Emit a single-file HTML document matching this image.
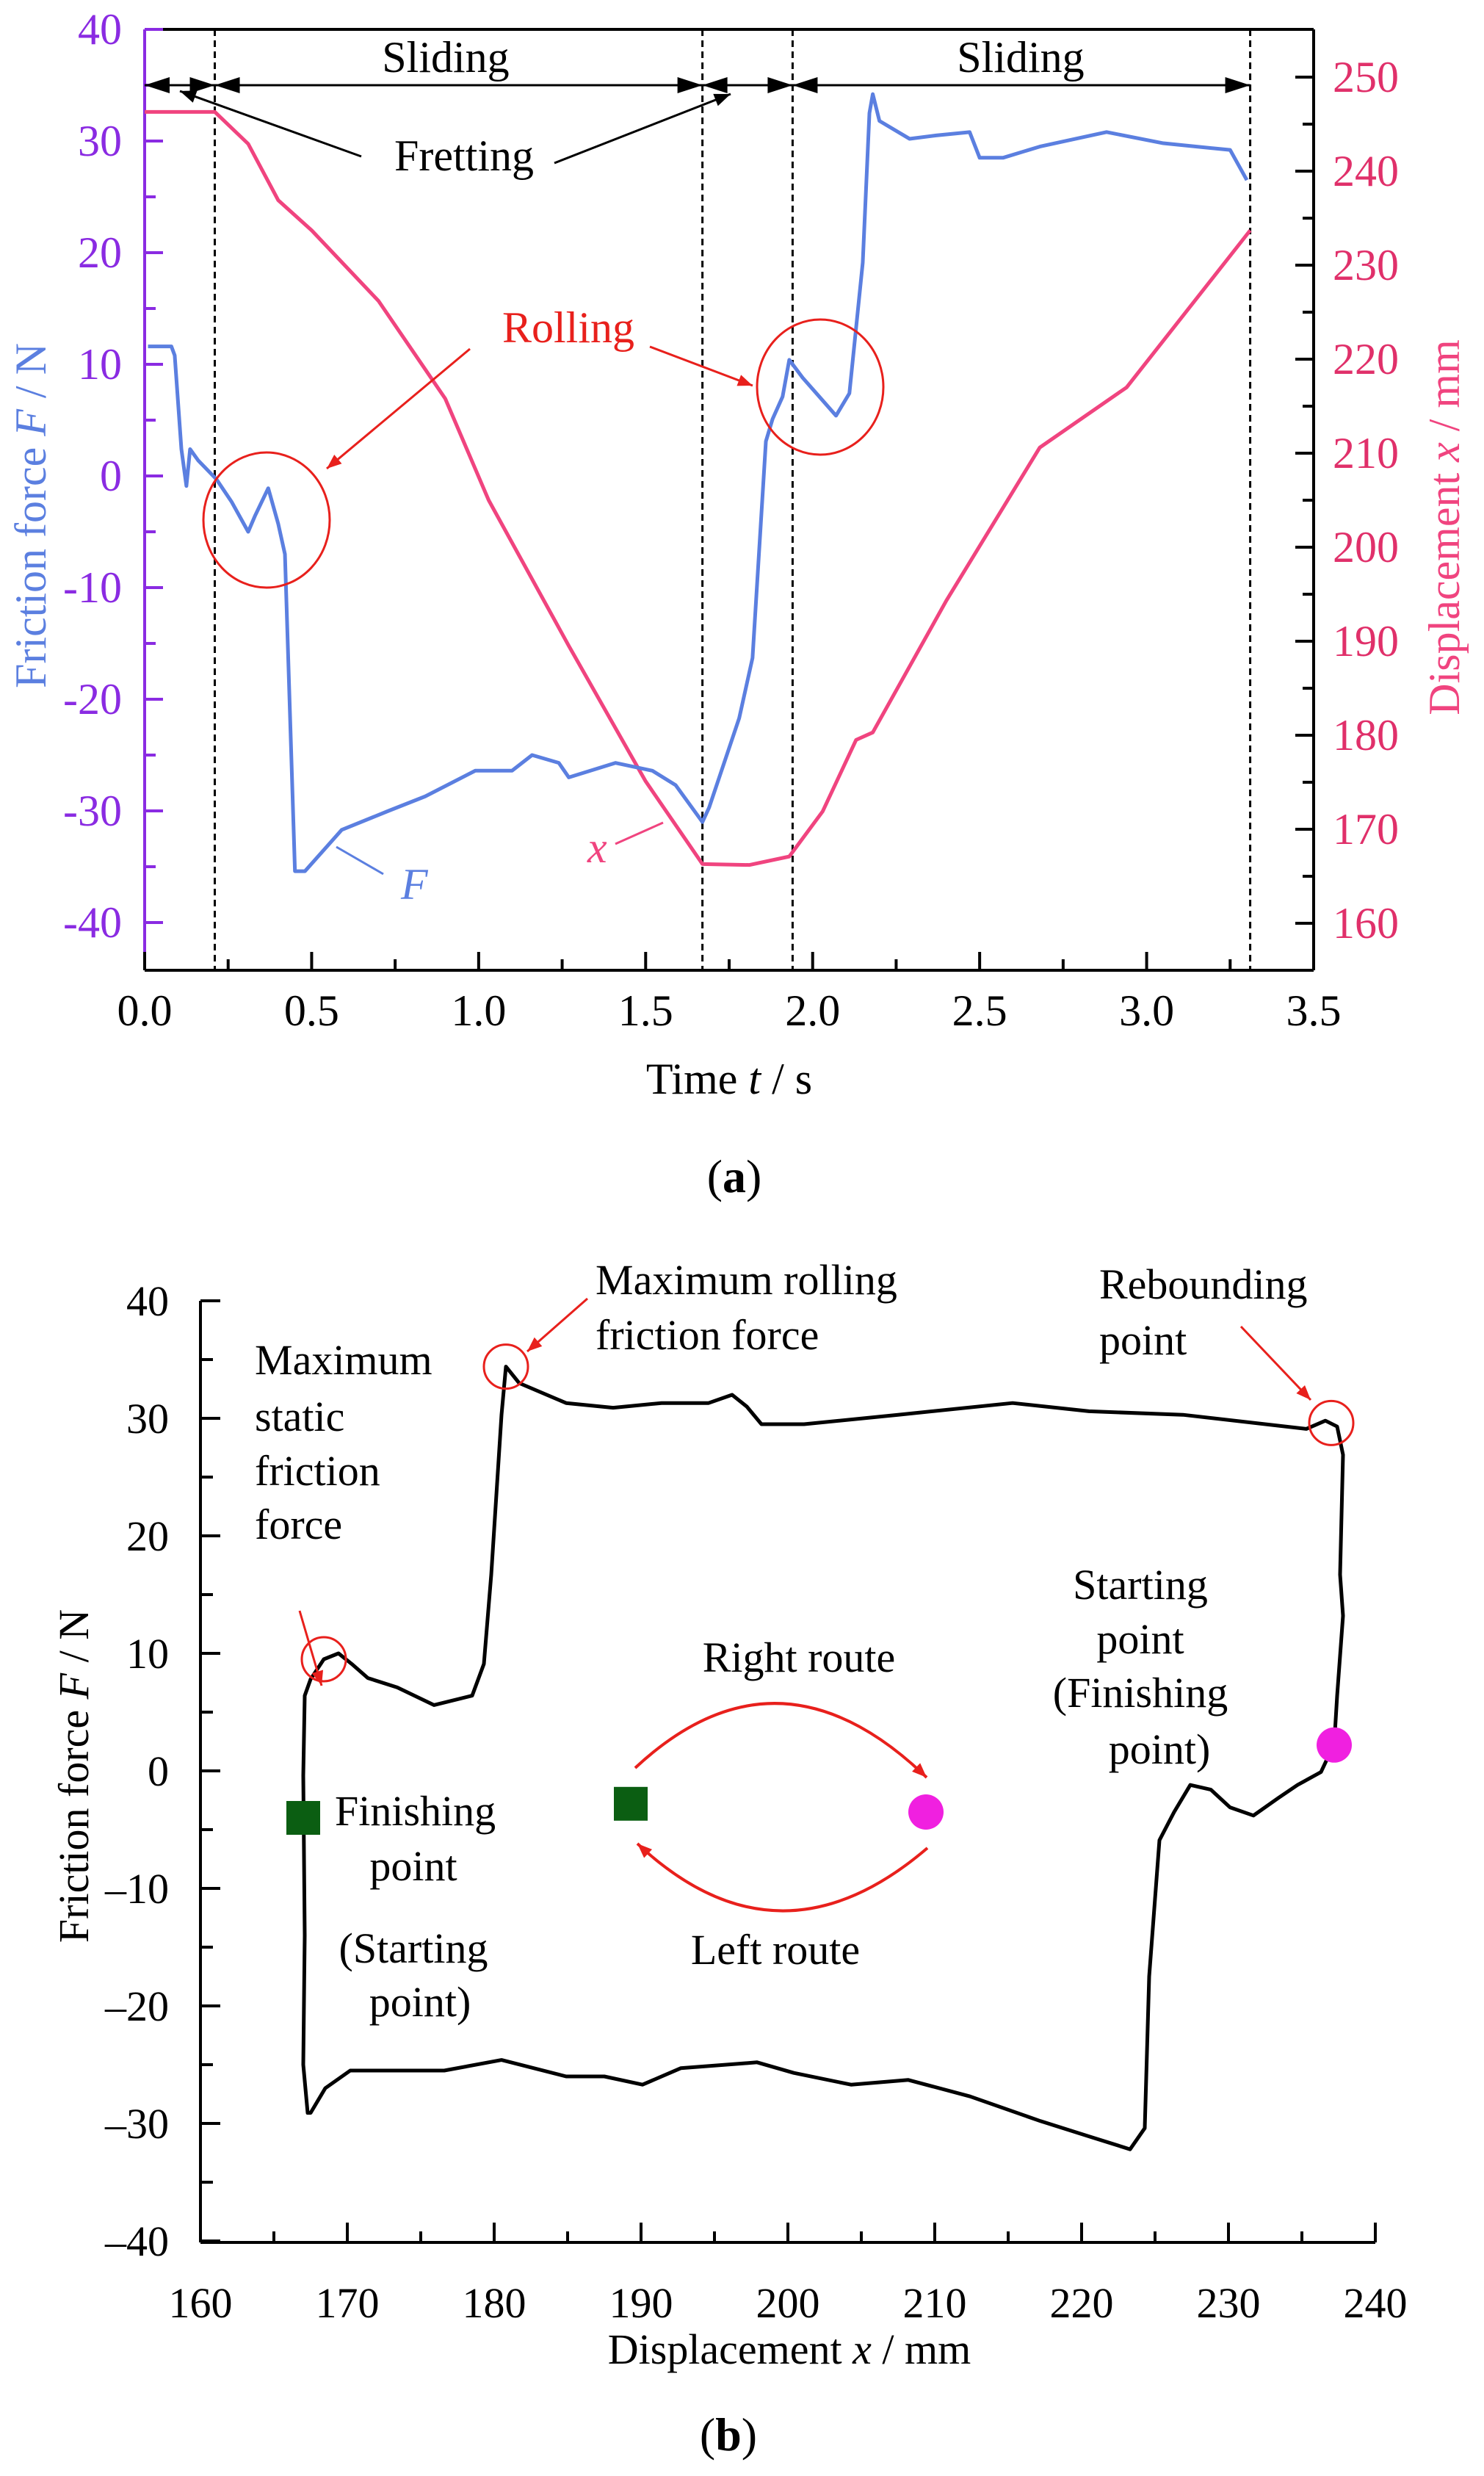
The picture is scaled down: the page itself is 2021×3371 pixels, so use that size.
<!DOCTYPE html>
<html><head><meta charset="utf-8"><style>
html,body{margin:0;padding:0;background:#fff;}
svg{display:block;font-family:"Liberation Serif",serif;}
</style></head><body>
<svg id="fig" width="2021" height="3371" viewBox="0 0 2021 3371" xmlns="http://www.w3.org/2000/svg">
<defs>
<marker id="ahr" viewBox="0 0 10 10" refX="10" refY="5" markerWidth="24" markerHeight="20" markerUnits="userSpaceOnUse" orient="auto"><path d="M0,1 L10,5 L0,9 z" fill="#e8201c"/></marker>
<marker id="ahk" viewBox="0 0 10 10" refX="10" refY="5" markerWidth="34" markerHeight="22" markerUnits="userSpaceOnUse" orient="auto"><path d="M0,1 L10,5 L0,9 z" fill="#000"/></marker>
</defs>
<g id="ga"></g>
<g id="gb"></g>
</svg>
<script>
// ---------- Chart (a) data ----------
const timeF = [0.01,0.08,0.09,0.11,0.125,0.136,0.16,0.215,0.26,0.31,0.33,0.37,0.40,0.42,0.45,0.48,0.59,0.73,0.84,0.99,1.10,1.16,1.24,1.27,1.41,1.52,1.59,1.67,1.69,1.78,1.82,1.86,1.88,1.91,1.93,1.97,2.02,2.07,2.11,2.15,2.17,2.18,2.20,2.29,2.37,2.47,2.50,2.57,2.68,2.88,3.05,3.25,3.30];
const forceF = [11.6,11.6,10.8,2.4,-0.9,2.4,1.4,-0.3,-2.3,-5,-3.6,-1.1,-4.3,-7,-35.4,-35.4,-31.7,-30,-28.7,-26.4,-26.4,-25,-25.7,-27,-25.7,-26.4,-27.7,-31,-29.7,-21.7,-16.3,3.1,5.1,7.1,10.4,8.8,7.1,5.4,7.4,19.1,32.5,34.2,31.8,30.2,30.5,30.8,28.5,28.5,29.5,30.8,29.8,29.2,26.5];
const timeX = [0,0.21,0.31,0.40,0.50,0.70,0.90,1.03,1.27,1.50,1.67,1.81,1.93,2.03,2.13,2.18,2.40,2.68,2.94,3.31];
const dispX = [246.3,246.3,242.9,236.9,233.7,226.2,215.8,205,189.5,175.1,166.3,166.2,167.1,171.9,179.5,180.3,194.3,210.6,217,233.7];
const phaseTimes = [0.21,1.67,1.94,3.31];
const xTicksA = [0,0.5,1,1.5,2,2.5,3,3.5];
const xTickLabelsA = ["0.0","0.5","1.0","1.5","2.0","2.5","3.0","3.5"];
const fTicksA = [40,30,20,10,0,-10,-20,-30,-40];
const dTicksA = [250,240,230,220,210,200,190,180,170,160];

// ---------- Chart (b) data ----------
const loopDisp = [167.3,167,167.1,167,167.1,167.5,168.4,169.4,170.3,171.4,173.4,175.9,178.5,179.3,179.8,180.5,180.8,181.7,184.9,188.1,191.4,194.6,196.2,197.2,198.2,201.1,207.5,215.3,220.5,226.9,235.3,236.6,237.4,237.8,237.6,237.8,237.4,237.2,236.3,234.7,233.4,231.7,230.1,228.8,227.4,226.3,225.3,224.6,224.3,223.3,220.5,217.2,212.4,208.2,204.3,200.4,197.9,192.7,190.1,187.5,184.9,180.5,176.6,170.2,168.5,167.5];
const loopForce = [-29.1,-25,-14,-0.4,6.4,7.8,9.5,10,9.1,7.9,7.1,5.6,6.4,9.1,16.7,30.3,34.4,33,31.3,30.9,31.3,31.3,32,31,29.5,29.5,30.3,31.3,30.6,30.3,29.1,29.8,29.3,26.9,16.7,13.2,6.4,2.3,-0.1,-1.2,-2.3,-3.8,-3.1,-1.6,-1.2,-3.5,-5.9,-17.5,-30.4,-32.2,-31.1,-29.8,-27.7,-26.3,-26.7,-25.7,-24.8,-25.3,-26.7,-26,-26,-24.6,-25.5,-25.5,-27,-29.1];
const xTicksB = [160,170,180,190,200,210,220,230,240];
const fTicksB = [40,30,20,10,0,-10,-20,-30,-40];

const NS="http://www.w3.org/2000/svg";
function mk(parent,tag,attrs,txt){const e=document.createElementNS(NS,tag);for(const k in attrs)e.setAttribute(k,attrs[k]);if(txt!==undefined)e.textContent=txt;parent.appendChild(e);return e;}

// ===== Chart A =====
const ga=document.getElementById('ga');
const AL=197,AR=1789,AT=40,AB=1321;
const tx=t=>AL+t*(AR-AL)/3.5;
const fy=f=>648-f*15.2;
const dy=d=>1257-(d-160)*12.8;
const PUR="#8a2be2",BLUE="#5b7fe0",PINK="#f0447f",RED="#e8201c";
const FA=60, FB=58;

let e;
e=mk(ga,'line',{x1:AL,y1:AT,x2:AR,y2:AT,stroke:'#000','stroke-width':4});

e=mk(ga,'line',{x1:AR,y1:AT,x2:AR,y2:AB,stroke:'#000','stroke-width':4});

e=mk(ga,'line',{x1:AL,y1:AB,x2:AR,y2:AB,stroke:'#000','stroke-width':4});

e=mk(ga,'line',{x1:AL,y1:AT,x2:AL,y2:AB,stroke:PUR,'stroke-width':4});


for(let f=-40;f<=40;f+=5){const maj=f%10===0;
 e=mk(ga,'line',{x1:AL,y1:fy(f),x2:AL+(maj?25:15),y2:fy(f),stroke:PUR,'stroke-width':4});
 }
fTicksA.forEach(f=>{
 e=mk(ga,'text',{x:166,y:fy(f)+20,'text-anchor':'end','font-size':FA,fill:PUR},f<0?('-'+Math.abs(f)):String(f));
 });
for(let d=160;d<=252;d+=5){const maj=d%10===0;
 e=mk(ga,'line',{x1:AR,y1:dy(d),x2:AR-(maj?25:15),y2:dy(d),stroke:'#000','stroke-width':4});
 }
dTicksA.forEach(d=>{
 e=mk(ga,'text',{x:1815,y:dy(d)+20,'font-size':FA,fill:'#e0306a'},String(d));
 });
for(let t=0;t<=3.5001;t+=0.25){const maj=Math.abs(t*2-Math.round(t*2))<1e-6;
 e=mk(ga,'line',{x1:tx(t),y1:AB,x2:tx(t),y2:AB-(maj?25:15),stroke:'#000','stroke-width':4});
 }
xTicksA.forEach((t,i)=>{
 e=mk(ga,'text',{x:tx(t),y:1396,'text-anchor':'middle','font-size':FA,fill:'#000'},xTickLabelsA[i]);
 });
phaseTimes.forEach(t=>{
 e=mk(ga,'line',{x1:tx(t),y1:AT,x2:tx(t),y2:AB,stroke:'#000','stroke-width':3,'stroke-dasharray':'9,6'});
 });
const ay=fy(35);
e=mk(ga,'line',{x1:AL,y1:ay,x2:tx(3.31),y2:ay,stroke:'#000','stroke-width':3});

function tri(x,dir,name){const w=34,h=11;
 const p=dir>0?`${x},${ay} ${x-w},${ay-h} ${x-w},${ay+h}`:`${x},${ay} ${x+w},${ay-h} ${x+w},${ay+h}`;
 const el=mk(ga,'polygon',{points:p,fill:'#000'});
 }
tri(AL,-1,'arrowhead');tri(tx(0.21),1,'arrowhead');tri(tx(0.21),-1,'arrowhead');
tri(tx(1.67),1,'arrowhead');tri(tx(1.67),-1,'arrowhead');
tri(tx(1.94),1,'arrowhead');tri(tx(1.94),-1,'arrowhead');tri(tx(3.31),1,'arrowhead');
e=mk(ga,'text',{x:607,y:98,'text-anchor':'middle','font-size':FA},'Sliding');

e=mk(ga,'text',{x:1390,y:98,'text-anchor':'middle','font-size':FA},'Sliding');

e=mk(ga,'text',{x:632,y:232,'text-anchor':'middle','font-size':FA},'Fretting');

e=mk(ga,'line',{x1:492,y1:213,x2:245,y2:124,stroke:'#000','stroke-width':3,'marker-end':'url(#ahk)'});

e=mk(ga,'line',{x1:755,y1:222,x2:995,y2:128,stroke:'#000','stroke-width':3,'marker-end':'url(#ahk)'});


e=mk(ga,'polyline',{points:timeX.map((t,i)=>tx(t)+','+dy(dispX[i])).join(' '),fill:'none',stroke:PINK,'stroke-width':5,'stroke-linejoin':'round'});

e=mk(ga,'polyline',{points:timeF.map((t,i)=>tx(t)+','+fy(forceF[i])).join(' '),fill:'none',stroke:BLUE,'stroke-width':5,'stroke-linejoin':'round'});


e=mk(ga,'ellipse',{cx:363,cy:708,rx:86,ry:92,fill:'none',stroke:RED,'stroke-width':3});

e=mk(ga,'ellipse',{cx:1117,cy:527,rx:86,ry:92,fill:'none',stroke:RED,'stroke-width':3});

e=mk(ga,'text',{x:774,y:466,'text-anchor':'middle','font-size':FA,fill:RED},'Rolling');

e=mk(ga,'line',{x1:640,y1:475,x2:445,y2:638,stroke:RED,'stroke-width':3,'marker-end':'url(#ahr)'});

e=mk(ga,'line',{x1:885,y1:472,x2:1025,y2:525,stroke:RED,'stroke-width':3,'marker-end':'url(#ahr)'});

e=mk(ga,'line',{x1:458,y1:1153,x2:522,y2:1190,stroke:BLUE,'stroke-width':3});

e=mk(ga,'text',{x:546,y:1224,'font-size':FA,'font-style':'italic',fill:BLUE},'F');

e=mk(ga,'line',{x1:838,y1:1149,x2:903,y2:1120,stroke:PINK,'stroke-width':3});

e=mk(ga,'text',{x:800,y:1174,'font-size':FA,'font-style':'italic',fill:PINK},'x');


e=mk(ga,'text',{x:993,y:1489,'text-anchor':'middle','font-size':FA},'');

e.innerHTML='Time  <tspan font-style="italic">t</tspan> / s';
e=mk(ga,'text',{transform:'translate(62,702) rotate(-90)','text-anchor':'middle','font-size':FA,fill:BLUE},'');

e.innerHTML='Friction force   <tspan font-style="italic">F</tspan> / N';
e=mk(ga,'text',{transform:'translate(1987,718) rotate(-90)','text-anchor':'middle','font-size':FA,fill:PINK},'');

e.innerHTML='Displacement   <tspan font-style="italic">x</tspan> / mm';
e=mk(ga,'text',{x:1000,y:1623,'text-anchor':'middle','font-size':64},'');

e.innerHTML='(<tspan font-weight="bold">a</tspan>)';

// ===== Chart B =====
const gb=document.getElementById('gb');
const BL=273,BR=1873,BB=3053;
const bx=d=>BL+(d-160)*20;
const by=f=>1771+(40-f)*16;
e=mk(gb,'line',{x1:BL,y1:by(40),x2:BL,y2:BB,stroke:'#000','stroke-width':4});

e=mk(gb,'line',{x1:BL,y1:BB,x2:BR,y2:BB,stroke:'#000','stroke-width':4});

for(let f=-40;f<=40;f+=5){const maj=f%10===0;
 e=mk(gb,'line',{x1:BL,y1:by(f),x2:BL+(maj?27:17),y2:by(f),stroke:'#000','stroke-width':4});
 }
fTicksB.forEach(f=>{
 e=mk(gb,'text',{x:230,y:by(f)+20,'text-anchor':'end','font-size':FB},f<0?('\u2013'+Math.abs(f)):String(f));
 });
for(let d=160;d<=240;d+=5){const maj=d%10===0;
 e=mk(gb,'line',{x1:bx(d),y1:BB,x2:bx(d),y2:BB-(maj?27:15),stroke:'#000','stroke-width':4});
 }
xTicksB.forEach(d=>{
 e=mk(gb,'text',{x:bx(d),y:3155,'text-anchor':'middle','font-size':FB},String(d));
 });
e=mk(gb,'polygon',{points:loopDisp.map((d,i)=>bx(d)+','+by(loopForce[i])).join(' '),fill:'none',stroke:'#000','stroke-width':5,'stroke-linejoin':'round'});


e=mk(gb,'rect',{x:bx(167)-23,y:by(-4)-23,width:46,height:46,fill:'#0b5e12'});

e=mk(gb,'rect',{x:bx(189.3)-23,y:by(-2.8)-23,width:46,height:46,fill:'#0b5e12'});

e=mk(gb,'circle',{cx:bx(237.2),cy:by(2.2),r:24,fill:'#f020e0'});

e=mk(gb,'circle',{cx:bx(209.4),cy:by(-3.5),r:24,fill:'#f020e0'});

[[168.4,9.5,'static-friction-circle'],[180.8,34.4,'rolling-friction-circle'],[237,29.6,'rebounding-circle']].forEach(c=>{
 const el=mk(gb,'circle',{cx:bx(c[0]),cy:by(c[1]),r:30,fill:'none',stroke:RED,'stroke-width':3});
 });
e=mk(gb,'path',{d:'M865,2407 Q1060,2225 1262,2420',fill:'none',stroke:RED,'stroke-width':4,'marker-end':'url(#ahr)'});

e=mk(gb,'path',{d:'M1263,2516 Q1060,2690 868,2510',fill:'none',stroke:RED,'stroke-width':4,'marker-end':'url(#ahr)'});

e=mk(gb,'line',{x1:408,y1:2193,x2:438,y2:2295,stroke:RED,'stroke-width':3,'marker-end':'url(#ahr)'});

e=mk(gb,'line',{x1:800,y1:1768,x2:718,y2:1840,stroke:RED,'stroke-width':3,'marker-end':'url(#ahr)'});

e=mk(gb,'line',{x1:1690,y1:1806,x2:1785,y2:1906,stroke:RED,'stroke-width':3,'marker-end':'url(#ahr)'});


const labels=[
 ['Maximum',347,1871,'start','max-static-label-1'],['static',347,1948,'start','max-static-label-2'],
 ['friction',347,2022,'start','max-static-label-3'],['force',347,2095,'start','max-static-label-4'],
 ['Maximum rolling',811,1762,'start','max-rolling-label-1'],['friction force',811,1837,'start','max-rolling-label-2'],
 ['Rebounding',1497,1768,'start','rebounding-label-1'],['point',1497,1844,'start','rebounding-label-2'],
 ['Starting',1553,2177,'middle','starting-label-1'],['point',1553,2251,'middle','starting-label-2'],
 ['(Finishing',1553,2324,'middle','starting-label-3'],['point)',1579,2401,'middle','starting-label-4'],
 ['Right route',1088,2276,'middle','right-route-label'],['Left route',1056,2674,'middle','left-route-label'],
 ['Finishing',456,2485,'start','finishing-label-1'],['point',563,2560,'middle','finishing-label-2'],
 ['(Starting',563,2672,'middle','finishing-label-3'],['point)',572,2745,'middle','finishing-label-4']];
labels.forEach(l=>{const el=mk(gb,'text',{x:l[1],y:l[2],'text-anchor':l[3],'font-size':FB},l[0]);
 });
e=mk(gb,'text',{x:1075,y:3218,'text-anchor':'middle','font-size':FB},'');

e.innerHTML='Displacement   <tspan font-style="italic">x</tspan> / mm';
e=mk(gb,'text',{transform:'translate(120,2418) rotate(-90)','text-anchor':'middle','font-size':FB},'');

e.innerHTML='Friction force   <tspan font-style="italic">F</tspan> / N';
e=mk(gb,'text',{x:992,y:3336,'text-anchor':'middle','font-size':64},'');

e.innerHTML='(<tspan font-weight="bold">b</tspan>)';
</script>
</body></html>
